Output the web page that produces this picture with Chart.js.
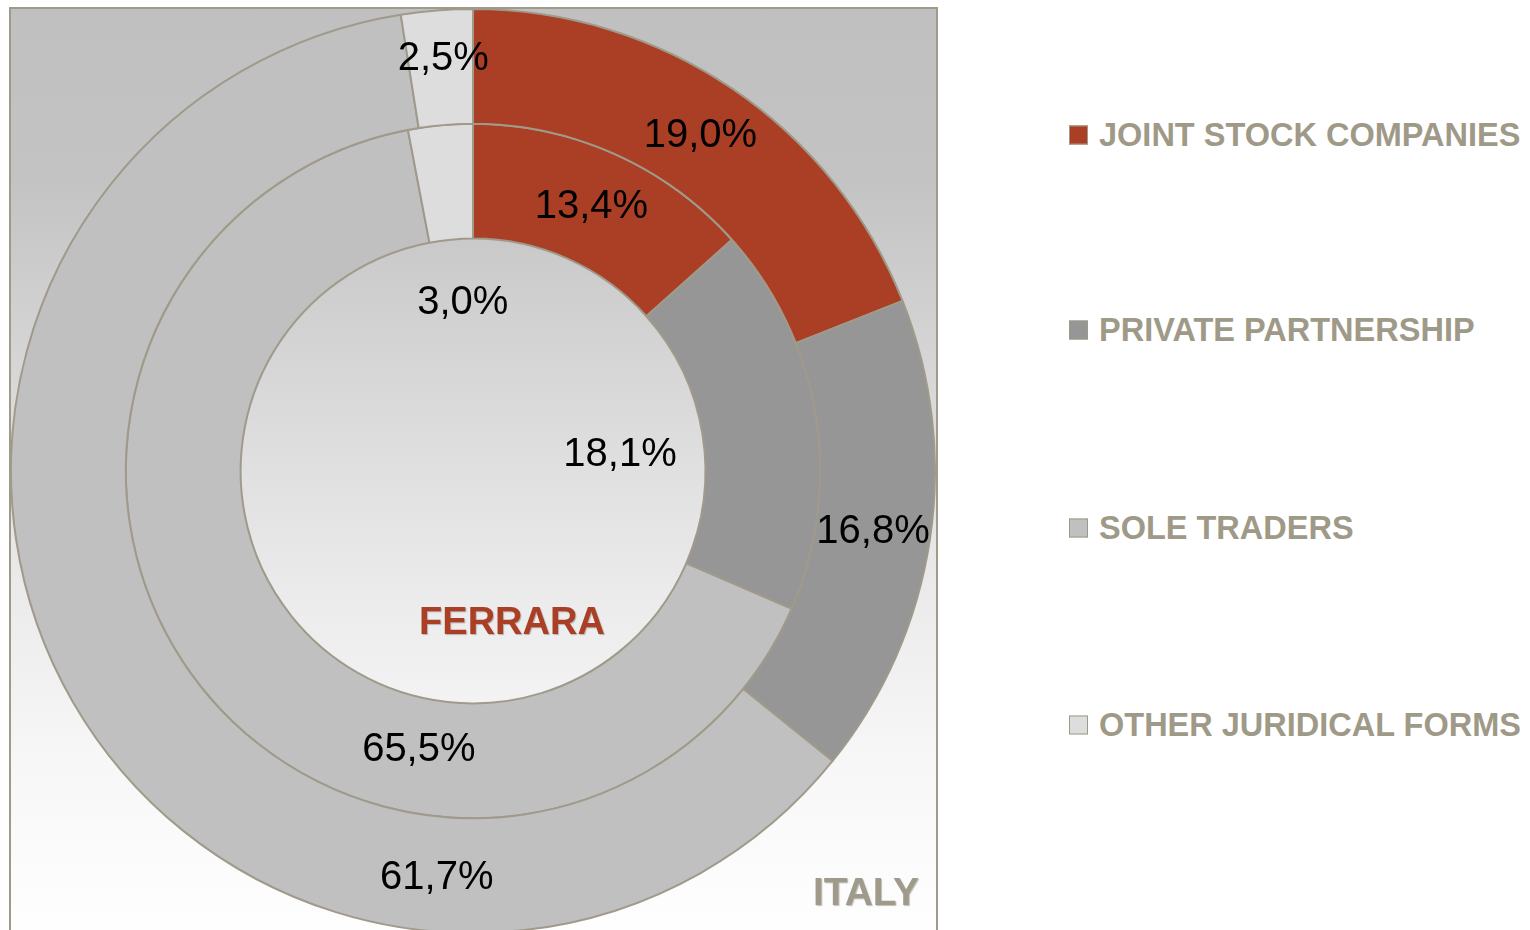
<!DOCTYPE html>
<html lang="en">
<head>
    <meta charset="UTF-8">
    <title>Juridical forms - Ferrara vs Italy</title>
    <script src="https://cdn.jsdelivr.net/npm/chart.js"></script>
    <style>
        html, body {
            margin: 0;
            padding: 0;
            width: 1530px;
            height: 930px;
            overflow: hidden;
            background: #fff;
            font-family: "Liberation Sans", Arial, sans-serif;
        }

        .plot-box {
            position: absolute;
            left: 9px;
            top: 7px;
            width: 925px;
            height: 940px;
            border: 2px solid #a09a8a;
            background: linear-gradient(to bottom, #c0c0c0 0%, #c3c3c3 18%, #d8d8d8 40%, #ebebeb 62%, #f7f7f7 80%, #ffffff 100%);
        }

        .chart-wrap {
            position: absolute;
            left: 10px;
            top: 8px;
            width: 926px;
            height: 926px;
        }

        .ring-name {
            position: absolute;
            font-weight: bold;
            transform: translate(-50%, -50%);
            white-space: nowrap;
            text-shadow: 1px 1px 1px rgba(0, 0, 0, 0.25);
        }

        .legend {
            position: absolute;
            left: 1069px;
            top: 0;
        }

        .legend-item {
            position: absolute;
            left: 0;
            display: flex;
            align-items: center;
            white-space: nowrap;
            transform: translateY(-50%);
            color: #9f9a88;
            font-weight: bold;
            font-size: 32.5px;
        }

        .legend-box {
            width: 17px;
            height: 17px;
            border: 1.5px solid #9f9a88;
            margin-right: 11px;
        }
    </style>
</head>
<body>
    <div class="plot-box"></div>
    <div class="chart-wrap">
        <canvas id="donut"></canvas>
    </div>
    <div class="ring-name" style="left:512px; top:621px; font-size:38px; color:#ab3f26;">FERRARA</div>
    <div class="ring-name" style="left:866px; top:892px; font-size:39px; color:#a09a8a;">ITALY</div>
    <div class="legend" id="legend"></div>

    <script>
        // data
        const categories = ['JOINT STOCK COMPANIES', 'PRIVATE PARTNERSHIP', 'SOLE TRADERS', 'OTHER JURIDICAL FORMS'];
        const italyShare = [19.0, 16.8, 61.7, 2.5];
        const ferraraShare = [13.4, 18.1, 65.5, 3.0];
        const sliceColors = ['#ab3f26', '#969696', '#c0c0c0', '#dddddd'];

        // manual label shifts (px) away from the slice centre, like the original
        const labelShift = [
            [[0, 0], [0, 0], [314, 204], [2, -9]],
            [[0, 0], [-139, 30], [172, 98], [17, 120]]
        ];

        // legend
        const legendEl = document.getElementById('legend');
        const legendY = [135, 330, 528, 725];
        categories.forEach((name, i) => {
            const item = document.createElement('div');
            item.className = 'legend-item';
            item.style.top = legendY[i] + 'px';
            item.innerHTML = '<span class="legend-box" style="background:' + sliceColors[i] + '"></span>' + name;
            legendEl.appendChild(item);
        });

        const sliceLabels = {
            id: 'sliceLabels',
            afterDatasetsDraw(chart) {
                const ctx = chart.ctx;
                ctx.save();
                ctx.font = '40px "Liberation Sans", Arial, sans-serif';
                ctx.fillStyle = '#000';
                ctx.textAlign = 'center';
                ctx.textBaseline = 'middle';
                chart.data.datasets.forEach((ds, di) => {
                    const meta = chart.getDatasetMeta(di);
                    meta.data.forEach((arc, i) => {
                        const p = arc.getProps(['x', 'y', 'startAngle', 'endAngle', 'innerRadius', 'outerRadius'], true);
                        const mid = (p.startAngle + p.endAngle) / 2;
                        const r = (p.innerRadius + p.outerRadius) / 2;
                        const shift = labelShift[di][i];
                        const x = p.x + Math.cos(mid) * r + shift[0];
                        const y = p.y + Math.sin(mid) * r + shift[1];
                        const txt = ds.data[i].toFixed(1).replace('.', ',') + '%';
                        ctx.fillText(txt, x, y);
                    });
                });
                ctx.restore();
            }
        };

        new Chart(document.getElementById('donut'), {
            type: 'doughnut',
            data: {
                labels: categories,
                datasets: [
                    {
                        label: 'ITALY',
                        data: italyShare,
                        backgroundColor: sliceColors,
                        borderColor: '#a09a8a',
                        borderWidth: 2
                    },
                    {
                        label: 'FERRARA',
                        data: ferraraShare,
                        backgroundColor: sliceColors,
                        borderColor: '#a09a8a',
                        borderWidth: 2
                    }
                ]
            },
            options: {
                responsive: true,
                maintainAspectRatio: false,
                animation: false,
                cutout: '50.3%',
                layout: { padding: 0 },
                plugins: {
                    legend: { display: false },
                    tooltip: { enabled: false }
                }
            },
            plugins: [sliceLabels]
        });
    </script>
</body>
</html>
